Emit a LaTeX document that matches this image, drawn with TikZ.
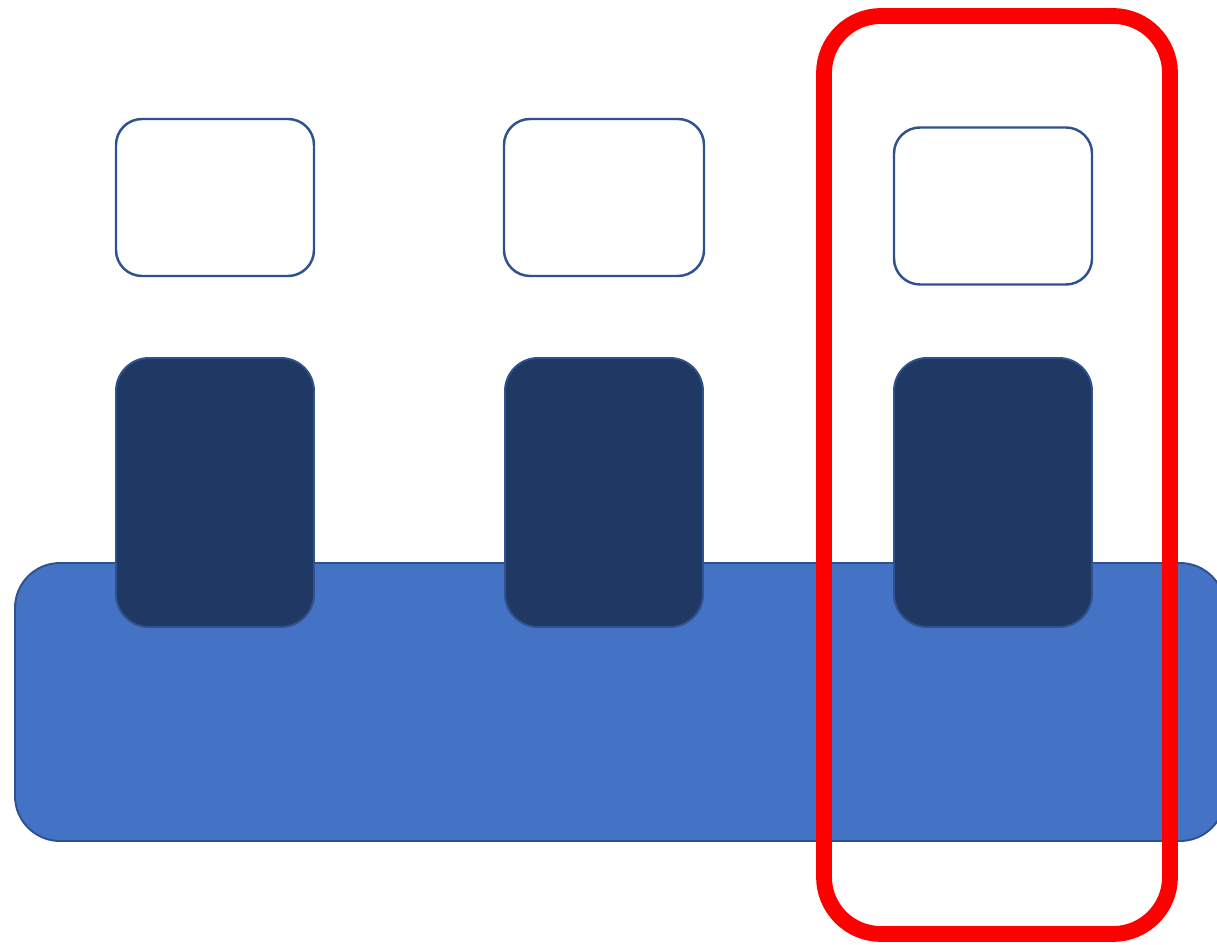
\documentclass[tikz,border=0pt]{standalone}
\usepackage{xcolor}
\usetikzlibrary{positioning}

\definecolor{barblue}{HTML}{4472C4}
\definecolor{edgeblue}{HTML}{2F528F}
\definecolor{keynavy}{HTML}{203864}

\begin{document}
\begin{tikzpicture}[
  every node/.style={inner sep=0pt,outer sep=0pt},
  base/.style={draw=edgeblue,fill=barblue,line width=1.1pt,
               rounded corners=0.9cm,minimum width=24.2cm,minimum height=5.56cm},
  key/.style={draw=edgeblue,fill=keynavy,line width=1.1pt,
              rounded corners=0.66cm,minimum width=3.96cm,minimum height=5.38cm},
  keycap/.style={draw=edgeblue,fill=white,line width=1.4pt,
              rounded corners=0.52cm,minimum width=3.96cm,minimum height=3.14cm},
  select/.style={draw=red,line width=9pt,rounded corners=1.14cm,
                 minimum width=6.92cm,minimum height=18.36cm}
]
  \useasboundingbox (0,0) rectangle (24.34,18.88);

  \node[base] (bar) at (12.40,4.84) {};

  \node[key] (key1) at (4.30,9.03) {};
  \node[key] (key2) at (12.08,9.03) {};
  \node[key] (key3) at (19.86,9.03) {};

  \node[keycap] (cap1) at (4.30,14.93) {};
  \node[keycap,minimum width=4.0cm] (cap2) at (12.08,14.93) {};
  \node[keycap] (cap3) at (19.86,14.76) {};

  \node[select] (sel) at (19.94,9.38) {};
\end{tikzpicture}
\end{document}
